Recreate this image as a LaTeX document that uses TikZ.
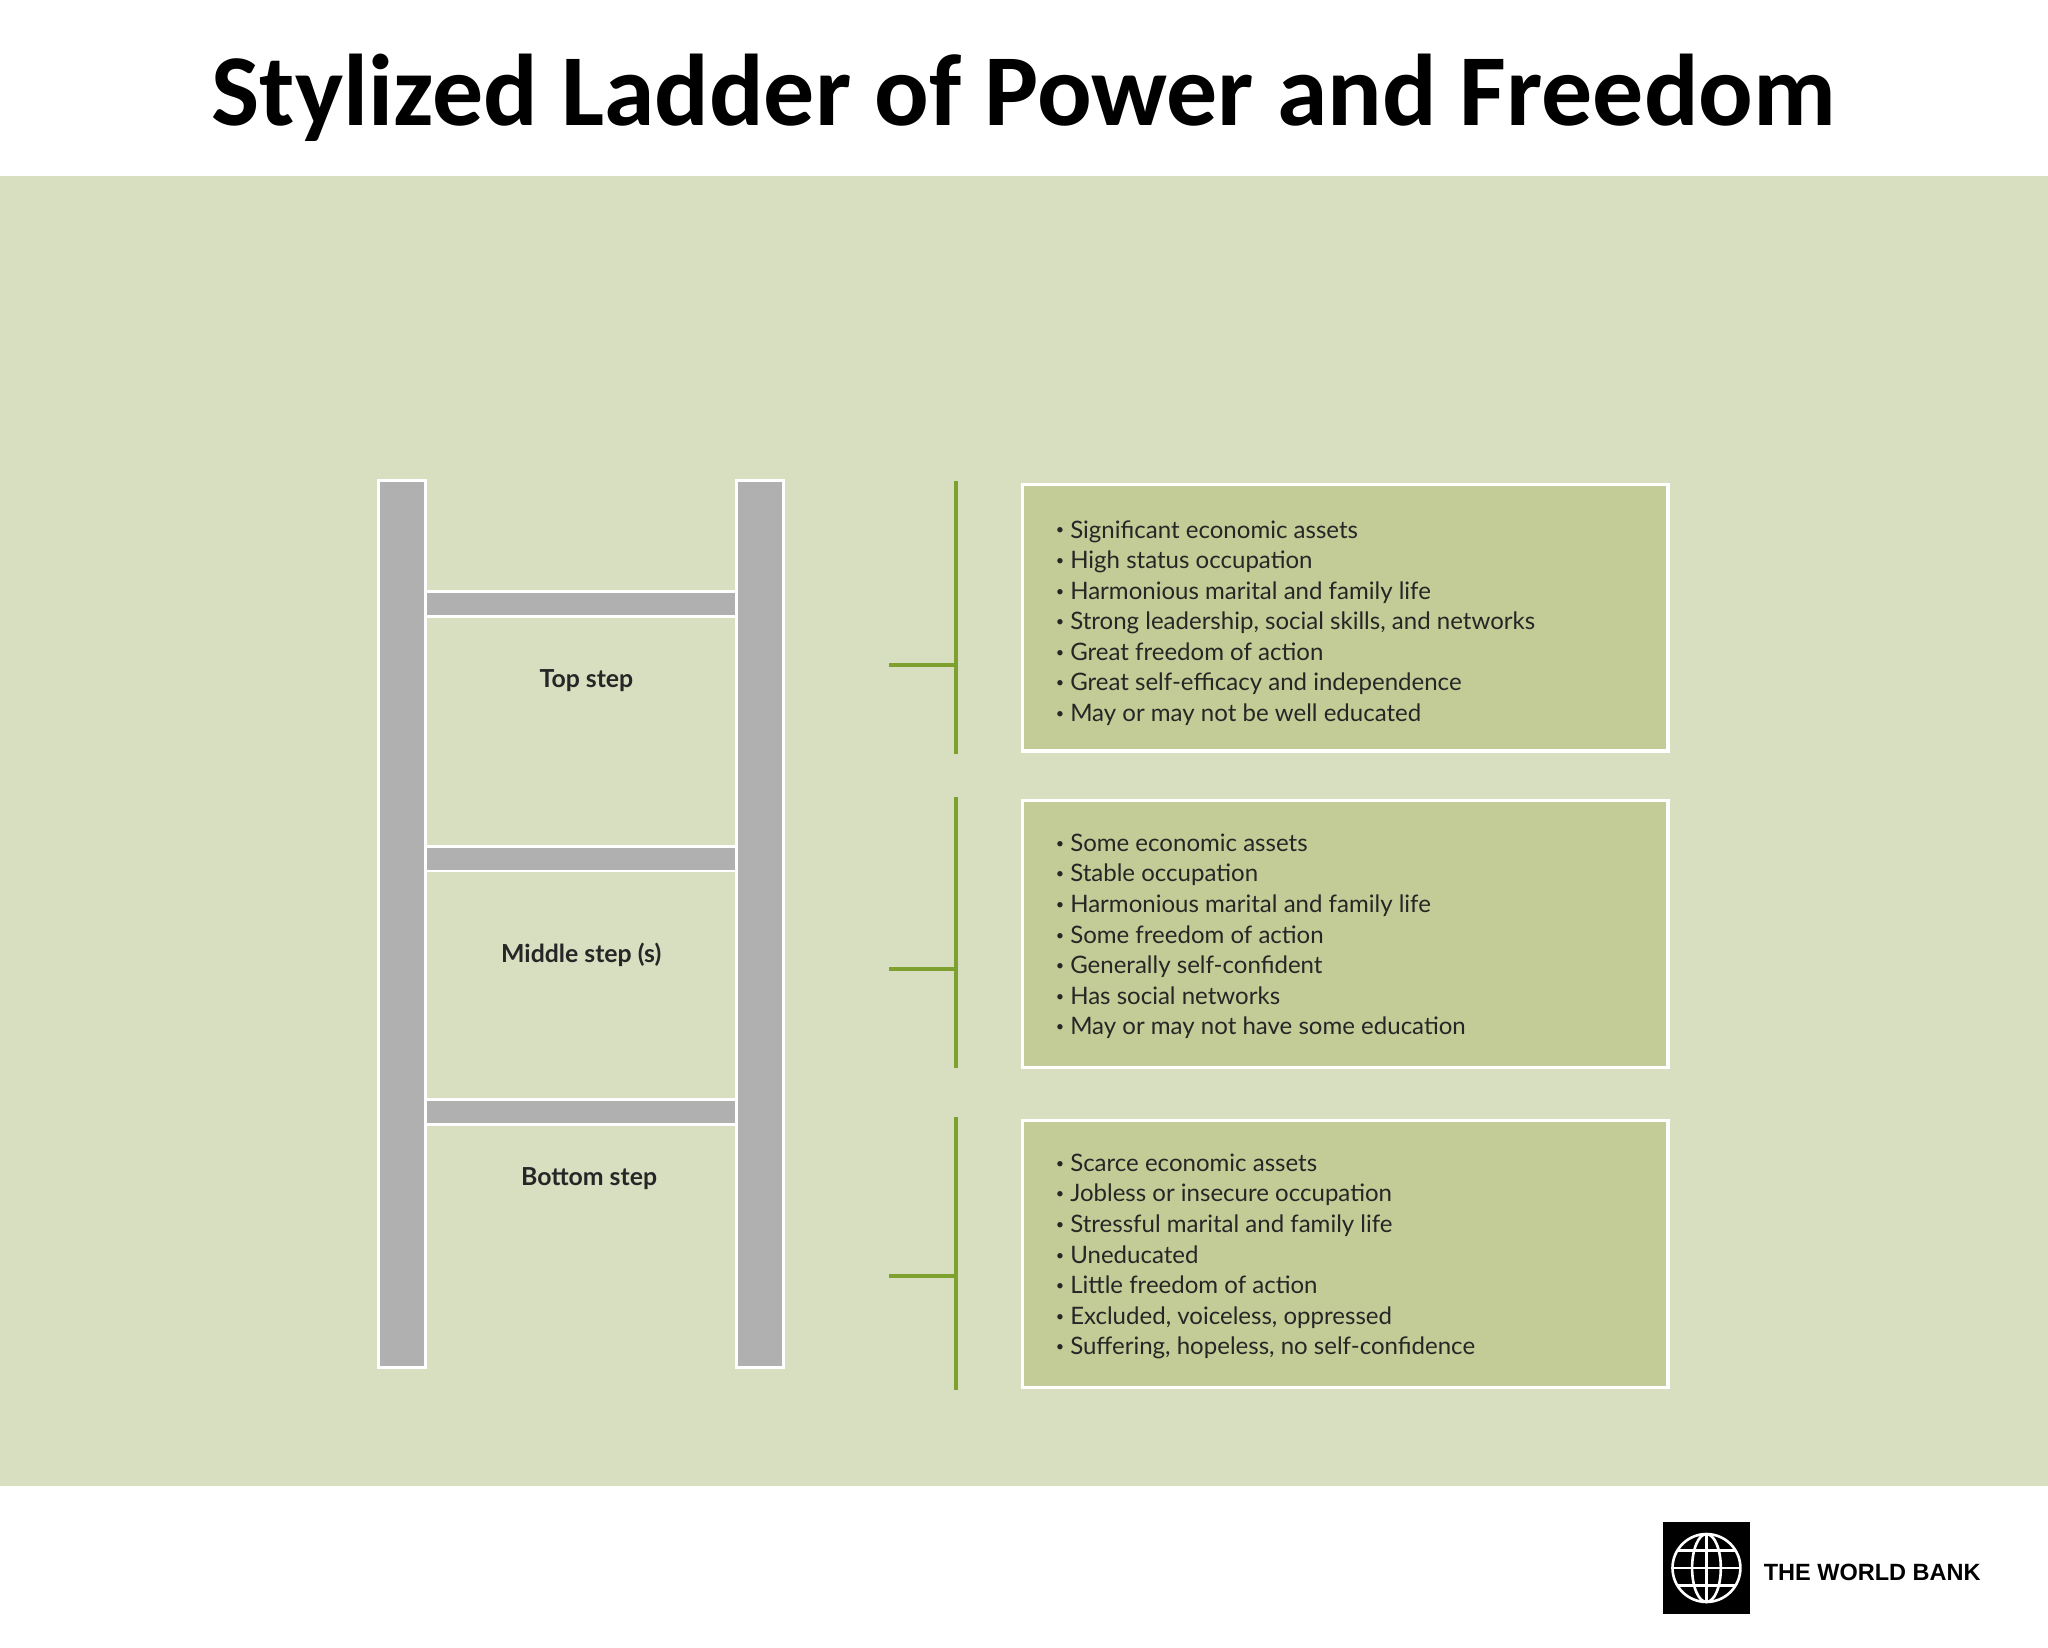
\documentclass[tikz,border=0pt]{standalone}
\usepackage{fontspec}
\setmainfont{Lato}
\newfontfamily\titlefont{Carlito}
\newfontfamily\logofont{Liberation Sans}
\definecolor{band}{HTML}{D8DEC0}
\definecolor{boxfill}{HTML}{C3CC96}
\definecolor{rail}{HTML}{B0B0B0}
\definecolor{brk}{HTML}{7EA02E}
\newcommand{\bul}{\raisebox{0.25ex}{\scalebox{0.6}{•}}\hspace{0.25em}}
\tikzset{
  railbox/.style={fill=rail,draw=white,line width=1pt},
  infobox/.style={fill=boxfill,draw=white,line width=1.2pt},
  brline/.style={draw=brk,line width=1.5pt},
  steplabel/.style={font=\fontsize{9.5}{11}\selectfont\bfseries,text=black!85},
  listtext/.style={anchor=north west,align=left,font=\fontsize{9.2}{11.7}\selectfont,text=black!85,inner sep=0pt}
}
\begin{document}
\begin{tikzpicture}[x=0.5pt,y=-0.5pt]
\useasboundingbox (0,0) rectangle (1568,1261);
\fill[white] (0,0) rectangle (1568,1261);
\fill[band] (0,135) rectangle (1568,1138);
\node (title) at (784,75) {\titlefont\bfseries\fontsize{39}{44}\selectfont Stylized Ladder of Power and Freedom};
% ladder
\foreach \y in {453,648,842} \draw[railbox] (326,\y) rectangle (564,\y+19);
\draw[railbox] (290,368) rectangle (326,1047);
\draw[railbox] (564,368) rectangle (600,1047);
\node[steplabel] (top) at (449,521) {Top step};
\node[steplabel] (mid) at (445,731) {Middle step (s)};
\node[steplabel] (bot) at (451,902) {Bottom step};
% brackets
\coordinate (b1a) at (732,368); \coordinate (b1b) at (732,577); \coordinate (t1) at (681,509); \coordinate (t1e) at (732,509);
\coordinate (b2a) at (732,610); \coordinate (b2b) at (732,818); \coordinate (t2) at (681,742); \coordinate (t2e) at (732,742);
\coordinate (b3a) at (732,855); \coordinate (b3b) at (732,1064); \coordinate (t3) at (681,977); \coordinate (t3e) at (732,977);
\draw[brline] (b1a) -- (b1b); \draw[brline] (t1) -- (t1e);
\draw[brline] (b2a) -- (b2b); \draw[brline] (t2) -- (t2e);
\draw[brline] (b3a) -- (b3b); \draw[brline] (t3) -- (t3e);
% boxes
\draw[infobox] (783,371) rectangle (1277,575);
\draw[infobox] (783,613) rectangle (1277,817);
\draw[infobox] (783,858) rectangle (1277,1062);
\node[listtext] (l1) at (808,398) {\bul Significant economic assets\\\bul High status occupation\\\bul Harmonious marital and family life\\\bul Strong leadership, social skills, and networks\\\bul Great freedom of action\\\bul Great self-efficacy and independence\\\bul May or may not be well educated};
\node[listtext] (l2) at (808,638) {\bul Some economic assets\\\bul Stable occupation\\\bul Harmonious marital and family life\\\bul Some freedom of action\\\bul Generally self-confident\\\bul Has social networks\\\bul May or may not have some education};
\node[listtext] (l3) at (808,883) {\bul Scarce economic assets\\\bul Jobless or insecure occupation\\\bul Stressful marital and family life\\\bul Uneducated\\\bul Little freedom of action\\\bul Excluded, voiceless, oppressed\\\bul Suffering, hopeless, no self-confidence};
% logo
\fill[black] (1273,1165) rectangle (1340,1236);
\begin{scope}[draw=white,line width=1pt]
\draw (1306.5,1200.5) circle (26);
\draw (1306.5,1200.5) ellipse (11 and 26);
\draw (1306.5,1174.5) -- (1306.5,1226.5);
\draw (1280.5,1200.5) -- (1332.5,1200.5);
\draw (1284,1187) -- (1329,1187);
\draw (1284,1214) -- (1329,1214);
\end{scope}
\node[anchor=west,inner sep=0pt] (wb) at (1350,1204) {\logofont\bfseries\fontsize{9}{11}\selectfont THE WORLD BANK};
\end{tikzpicture}
\end{document}
